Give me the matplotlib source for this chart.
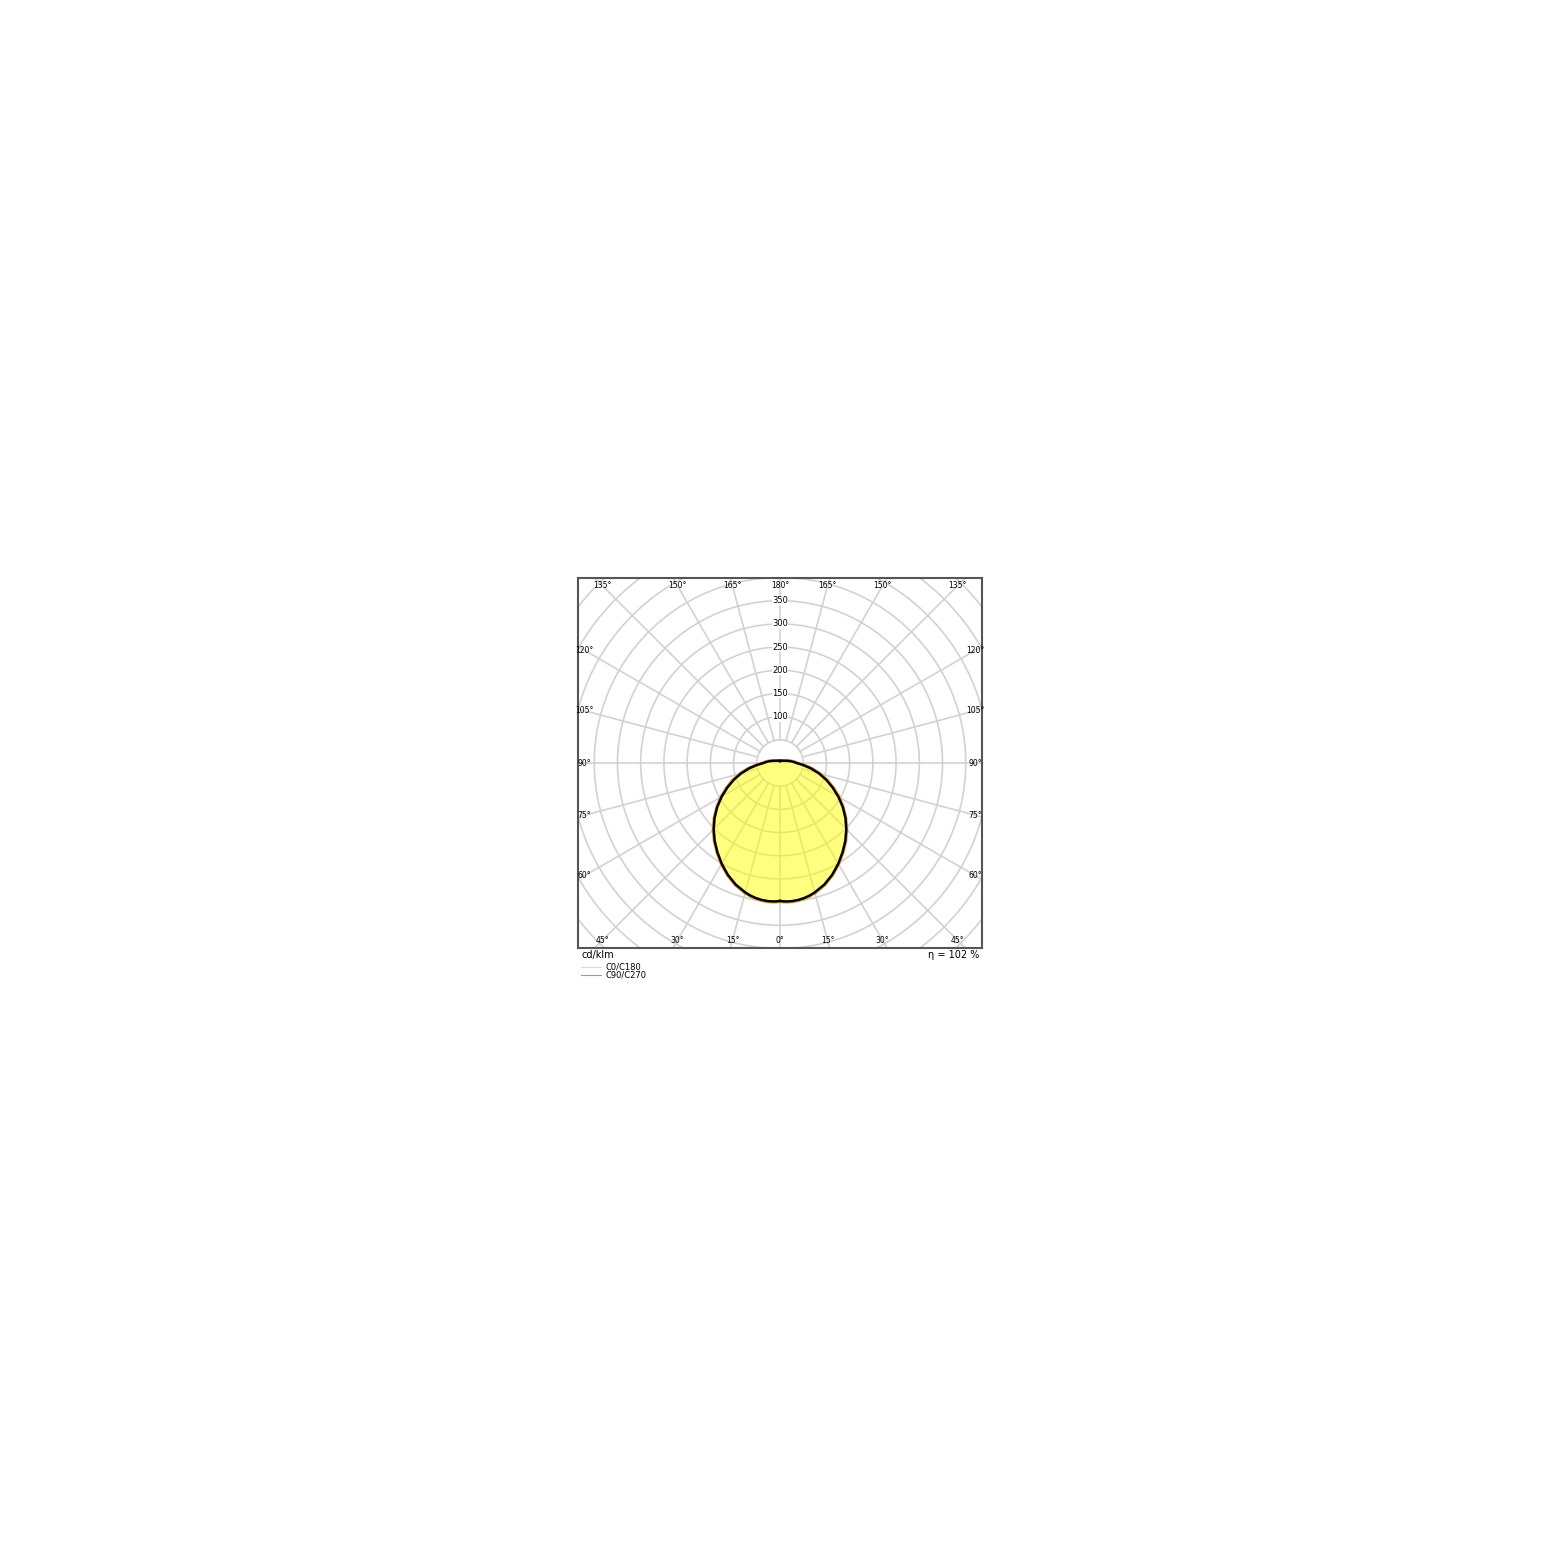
import numpy as np
import matplotlib.pyplot as plt
from matplotlib.lines import Line2D

# luminous intensity in cd/klm, gamma measured from nadir
gamma = [0, 1.5, 3, 5, 7.5, 10, 12.5, 15, 20, 25, 30, 35, 40, 45, 50, 55, 60, 65,
         70, 75, 80, 85, 90, 95, 100, 105, 110, 120, 135, 150, 165, 175, 178.5, 180]
c0_c180 = [298.5, 299.5, 300, 300, 299, 297, 294, 290, 280, 267, 252, 236, 220, 203,
           185, 166, 147, 127, 108, 89, 70, 52, 37, 30, 24, 18, 14, 10, 7, 6, 5,
           5, 4.5, 3.5]
c90_c270 = [297.5, 298.5, 299, 299, 298, 296, 293, 289, 279, 266, 251, 235, 219, 202,
            184, 165, 145, 125, 106, 87, 68, 50, 36, 29, 23, 18, 14, 10, 7, 6, 5,
            5, 4.5, 3.5]

ring_values = [100, 150, 200, 250, 300, 350]
bottom_angles = [0, 15, 30, 45]
side_angles = [60, 75, 90, 105, 120]
top_angles = [135, 150, 165, 180]
series_names = ['C0/C180', 'C90/C270']
eta_text = 'η = 102 %'
unit_text = 'cd/klm'

fig = plt.figure(figsize=(15.6, 15.61), dpi=100)
ax = fig.add_axes([578 / 1560, 1 - 948 / 1561, 404 / 1560, 370 / 1561])
ax.set_xlim(-435, 435)
ax.set_ylim(-399, 399)
ax.set_aspect('auto')
ax.set_xticks([])
ax.set_yticks([])
for s in ax.spines.values():
    s.set_color('#555555')
    s.set_linewidth(1.5)

grid_col = '#d2d2d2'
t = np.linspace(0, 2 * np.pi, 400)
for r in range(50, 650, 50):
    ax.plot(r * np.cos(t), r * np.sin(t), color=grid_col, lw=1.2, zorder=1)
for a in range(0, 360, 15):
    ar = np.radians(a)
    ax.plot([50 * np.sin(ar), 800 * np.sin(ar)], [-50 * np.cos(ar), -800 * np.cos(ar)],
            color=grid_col, lw=1.2, zorder=1)


def outline(vals):
    g = np.radians(gamma)
    v = np.array(vals, dtype=float)
    xr, yr = v * np.sin(g), -v * np.cos(g)
    x = np.concatenate([xr, -xr[::-1]])
    y = np.concatenate([yr, yr[::-1]])
    return x, y


x0, y0 = outline(c0_c180)
x9, y9 = outline(c90_c270)
ax.fill(x0, y0, color='#ffff00', alpha=0.5, lw=0, zorder=2)
ax.plot(x0, y0, color='#d89a2a', lw=2.4, zorder=3, solid_joinstyle='round')
ax.plot(x9, y9, color='black', lw=1.7, zorder=4, solid_joinstyle='round')

# radial value labels on the upward ray
for r in ring_values:
    ax.text(0, r, str(r), fontsize=6, ha='center', va='center', zorder=5,
            bbox=dict(facecolor='white', edgecolor='none', pad=0.3))

# angle labels at the frame edge
W, H = 421, 382


def angle_label(a, side):
    ar = np.radians(a)
    dx, dy = side * np.sin(ar), -np.cos(ar)
    k = min(W / abs(dx) if dx != 0 else 1e9, H / abs(dy) if abs(dy) > 1e-9 else 1e9)
    ax.text(k * dx, k * dy, f'{a}°', fontsize=5.5, ha='center', va='center', zorder=5)


for a in bottom_angles + side_angles + top_angles:
    if a in (0, 180):
        angle_label(a, 1)
    else:
        angle_label(a, 1)
        angle_label(a, -1)

fig.text(581 / 1560, 1 - 955 / 1561, unit_text, fontsize=7, ha='left', va='center')
fig.text(979 / 1560, 1 - 955 / 1561, eta_text, fontsize=7, ha='right', va='center')

handles = [Line2D([0], [0], color='#f3dc9a', lw=0.8),
           Line2D([0], [0], color='#9a9a9a', lw=0.8)]
fig.legend(handles, series_names, loc='upper left',
           bbox_to_anchor=(581 / 1560, 1 - 963 / 1561), frameon=False,
           fontsize=6, handlelength=2.4, handletextpad=0.5, labelspacing=-0.15,
           borderpad=0, borderaxespad=0)

fig.savefig('out.png', dpi=100)
